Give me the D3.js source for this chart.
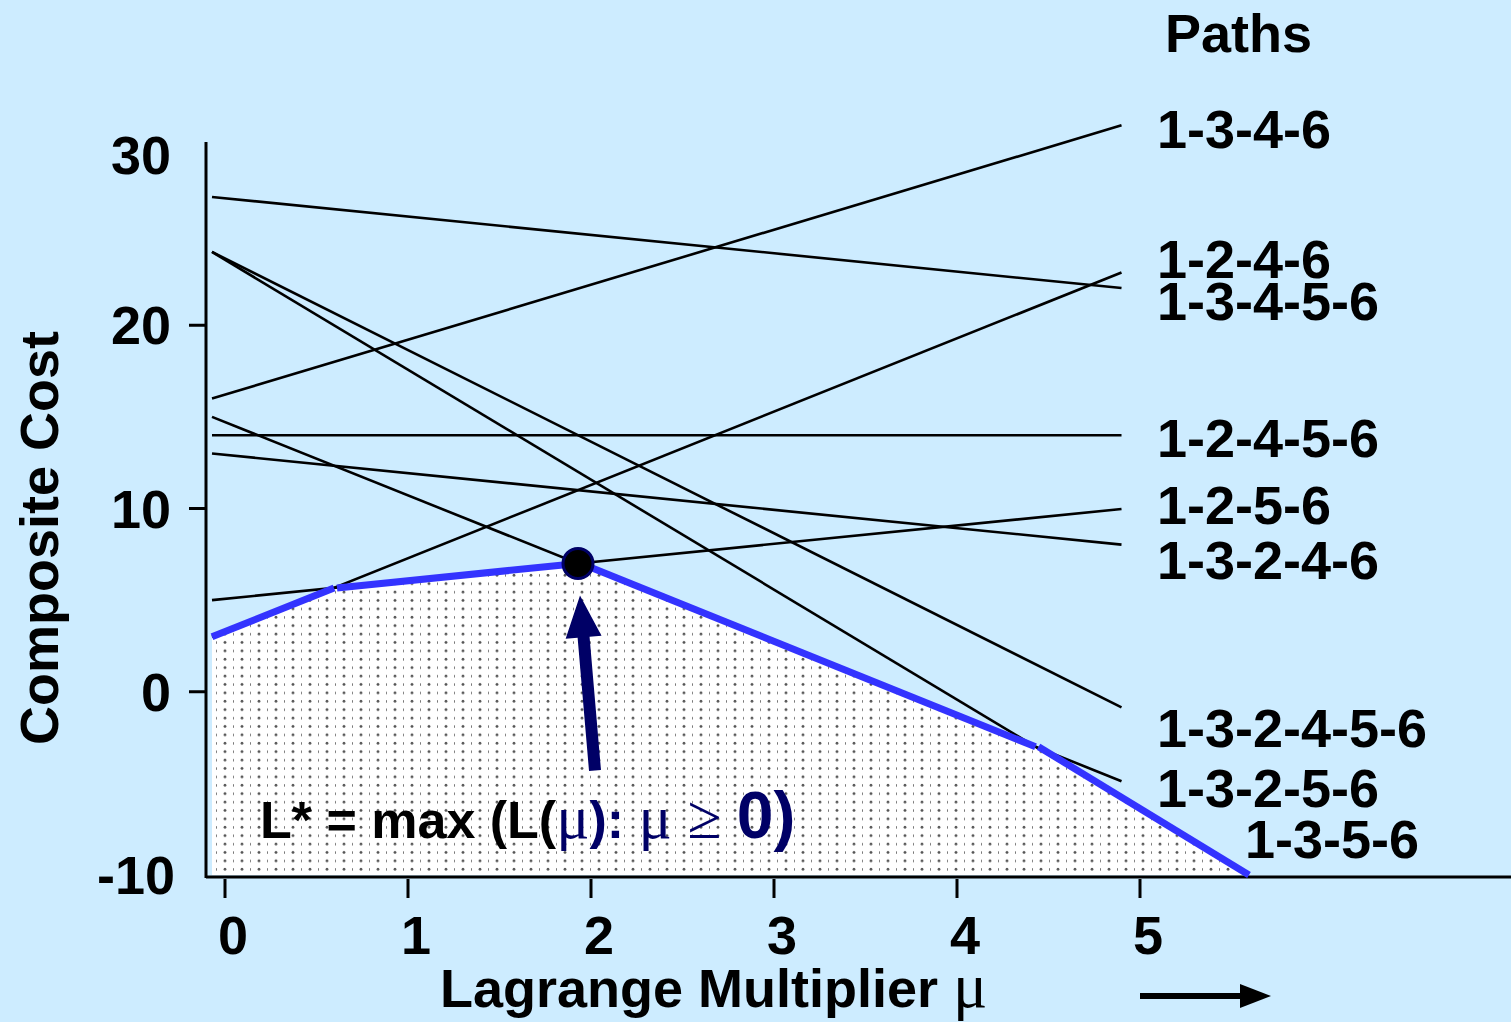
<!DOCTYPE html>
<html>
<head>
<meta charset="utf-8">
<script src="https://cdn.jsdelivr.net/npm/d3@7"></script>
<style>
  html, body { margin: 0; padding: 0; background: #cdecff; }
  svg { display: block; }
  text { font-family: "Liberation Sans", Arial, sans-serif; font-weight: bold; fill: #000; }
</style>
</head>
<body>
<div id="chart"></div>
<script>
// path data: composite cost = cost + slope * mu
const pathNames = ['1-3-4-6', '1-2-4-6', '1-3-4-5-6', '1-2-4-5-6', '1-2-5-6', '1-3-2-4-6', '1-3-2-4-5-6', '1-3-2-5-6', '1-3-5-6'];
const pathCosts = [16, 3, 27, 14, 5, 13, 24, 15, 24];
const pathSlopes = [3, 4, -1, 0, 1, -1, -5, -4, -6];
const labelBaselines = [148, 278, 320, 457, 524, 579, 747, 807, 858];
const labelX = [1157, 1157, 1157, 1157, 1157, 1157, 1157, 1157, 1245];

// lower envelope L(mu), in order of mu
const envelopePaths = ['1-2-4-6', '1-2-5-6', '1-3-2-5-6', '1-3-5-6'];

const xTicks = [0, 1, 2, 3, 4, 5];
const yTicks = [-10, 0, 10, 20, 30];
const yTickMarks = [0, 10, 20];
const muMax = 4.97;
const muOpt = 2;

const width = 1511, height = 1022;
const svg = d3.select('#chart').append('svg')
    .attr('width', width)
    .attr('height', height);

svg.append('rect').attr('width', width).attr('height', height).attr('fill', '#cdecff');

const x = d3.scaleLinear().domain([0, 5]).range([212, 1127]);
const y = d3.scaleLinear().domain([-10, 30]).range([875, 142]);

const lines = pathNames.map((name, i) => ({ name, c: pathCosts[i], s: pathSlopes[i] }));
const byName = Object.fromEntries(lines.map(d => [d.name, d]));
const val = (d, mu) => d.c + d.s * mu;

// stipple pattern
const defs = svg.append('defs');
const pat = defs.append('pattern')
    .attr('id', 'dots')
    .attr('patternUnits', 'userSpaceOnUse')
    .attr('width', 17).attr('height', 8.4);
pat.append('rect').attr('width', 17).attr('height', 8.4).attr('fill', '#fff');
pat.append('circle').attr('cx', 4).attr('cy', 4).attr('r', 1.4).attr('fill', '#555');
pat.append('rect').attr('x', 12).attr('y', 3).attr('width', 1).attr('height', 2.4).attr('fill', '#777');

// envelope breakpoints
const env = [];
let muPrev = 0;
envelopePaths.forEach((name, i) => {
    const a = byName[name];
    let muNext;
    if (i < envelopePaths.length - 1) {
        const b = byName[envelopePaths[i + 1]];
        muNext = (b.c - a.c) / (a.s - b.s);
    } else {
        muNext = (-10 - a.c) / a.s;
    }
    env.push({ a, m0: muPrev, m1: muNext });
    muPrev = muNext;
});

// shaded region under L(mu)
const areaPts = [[0, -10], [0, val(env[0].a, 0)]];
env.forEach(e => areaPts.push([e.m1, val(e.a, e.m1)]));
svg.append('path')
    .attr('d', d3.line().x(d => x(d[0])).y(d => y(d[1]))(areaPts) + 'Z')
    .attr('fill', 'url(#dots)');

// axes
svg.append('line')
    .attr('x1', 206).attr('x2', 206)
    .attr('y1', y(30)).attr('y2', 878)
    .attr('stroke', '#000').attr('stroke-width', 3);
svg.append('line')
    .attr('x1', 206).attr('x2', width)
    .attr('y1', 877).attr('y2', 877)
    .attr('stroke', '#000').attr('stroke-width', 3);

// x ticks (drawn slightly right of the line origin, as in the slide)
const xAxisG = svg.append('g').attr('transform', 'translate(13,0)');
xAxisG.selectAll('line.tick').data(xTicks).join('line')
    .attr('x1', d => x(d)).attr('x2', d => x(d))
    .attr('y1', 879).attr('y2', 898)
    .attr('stroke', '#000').attr('stroke-width', 3);
xAxisG.selectAll('text.tick').data(xTicks).join('text')
    .attr('x', d => x(d) + 8).attr('y', 954)
    .attr('text-anchor', 'middle')
    .style('font-size', '54px')
    .text(d => d);

// y ticks
svg.selectAll('line.ytick').data(yTickMarks).join('line')
    .attr('x1', 189).attr('x2', 206)
    .attr('y1', d => y(d)).attr('y2', d => y(d))
    .attr('stroke', '#000').attr('stroke-width', 3);
svg.selectAll('text.ytick').data(yTicks).join('text')
    .attr('x', d => d === -10 ? 175 : 171)
    .attr('y', d => (d === 30 ? y(d) + 13 : y(d)) + 19)
    .attr('text-anchor', 'end')
    .style('font-size', '54px')
    .text(d => d);

// path lines
svg.selectAll('line.path').data(lines).join('line')
    .attr('x1', x(0)).attr('y1', d => y(val(d, 0)))
    .attr('x2', x(muMax)).attr('y2', d => y(val(d, muMax)))
    .attr('stroke', '#000').attr('stroke-width', 2.6);

// envelope segments
svg.selectAll('line.env').data(env).join('line')
    .attr('x1', d => x(d.m0) + (d.m0 > 0 ? 3 : 0)).attr('y1', d => y(val(d.a, d.m0)))
    .attr('x2', d => x(d.m1)).attr('y2', d => y(val(d.a, d.m1)))
    .attr('stroke', '#3333ff').attr('stroke-width', 7);

// path labels
svg.selectAll('text.label').data(lines).join('text')
    .attr('x', (d, i) => labelX[i])
    .attr('y', (d, i) => labelBaselines[i])
    .style('font-size', '54px')
    .text(d => d.name);

svg.append('text').attr('x', 1165).attr('y', 52).style('font-size', '54px').text('Paths');

// optimum point and arrow
const optVal = val(byName['1-2-5-6'], muOpt);
const ax = x(muOpt), ay = y(optVal);
const tail = [ax + 17, ay + 207], tip = [ax + 2, ay + 32];
const ang = Math.atan2(tip[1] - tail[1], tip[0] - tail[0]);
const headLen = 42, headW = 18, shaftW = 6;
const px = -Math.sin(ang), py = Math.cos(ang);
const hb = [tip[0] - headLen * Math.cos(ang), tip[1] - headLen * Math.sin(ang)];
const arrowPts = [
    [tail[0] + px * shaftW, tail[1] + py * shaftW],
    [hb[0] + px * shaftW, hb[1] + py * shaftW],
    [hb[0] + px * headW, hb[1] + py * headW],
    tip,
    [hb[0] - px * headW, hb[1] - py * headW],
    [hb[0] - px * shaftW, hb[1] - py * shaftW],
    [tail[0] - px * shaftW, tail[1] - py * shaftW]
];
svg.append('polygon').attr('points', arrowPts.map(p => p.join(',')).join(' ')).attr('fill', '#000066');

svg.append('circle')
    .attr('cx', ax).attr('cy', ay).attr('r', 15)
    .attr('fill', '#000').attr('stroke', '#000066').attr('stroke-width', 3);

// formula
const serif = '"Liberation Serif", "Times New Roman", serif';
const f = svg.append('text').attr('x', 260).attr('y', 838).style('font-size', '52px');
f.append('tspan').text('L* = max (L(');
f.append('tspan').style('font-family', serif).style('font-weight', 'normal').style('font-size', '62px').style('fill', '#000066').text('μ');
f.append('tspan').style('fill', '#000066').text('): ');
f.append('tspan').style('font-family', serif).style('font-weight', 'normal').style('font-size', '62px').style('fill', '#000066').text('μ ≥ ');
f.append('tspan').style('fill', '#000066').style('font-size', '66px').text('0)');

// axis titles
const xt = svg.append('text').attr('x', 440).attr('y', 1007).style('font-size', '54px');
xt.append('tspan').text('Lagrange Multiplier ');
xt.append('tspan').style('font-family', serif).style('font-weight', 'normal').style('font-size', '64px').text('μ');

svg.append('text')
    .attr('transform', 'translate(58,538) rotate(-90)')
    .attr('text-anchor', 'middle')
    .style('font-size', '54px')
    .text('Composite Cost');

// direction arrow under x axis
svg.append('line')
    .attr('x1', 1140).attr('x2', 1245).attr('y1', 996).attr('y2', 996)
    .attr('stroke', '#000').attr('stroke-width', 6);
svg.append('polygon')
    .attr('points', '1240,984 1271,996 1240,1008')
    .attr('fill', '#000');
</script>
</body>
</html>
